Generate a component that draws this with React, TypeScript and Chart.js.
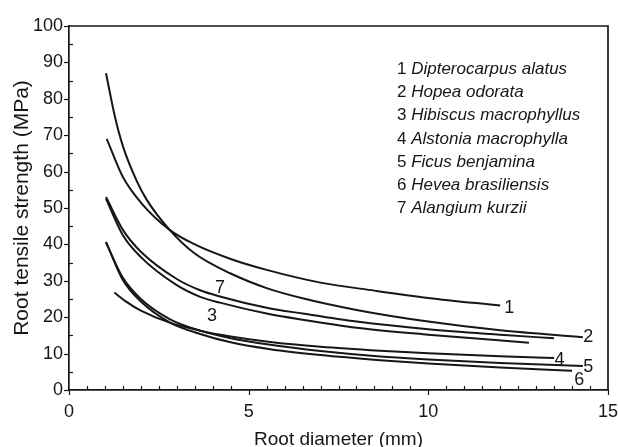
import React, { useEffect, useRef } from "react";
import { Chart, registerables } from "chart.js";

Chart.register(...registerables);

const FAMILY = '"Liberation Sans", Arial, Helvetica, sans-serif';
const INK = "#161616";

// Species (legend order = curve number)
const curveNumbers = ["1", "2", "3", "4", "5", "6", "7"];
const speciesNames = [
  "Dipterocarpus alatus",
  "Hopea odorata",
  "Hibiscus macrophyllus",
  "Alstonia macrophylla",
  "Ficus benjamina",
  "Hevea brasiliensis",
  "Alangium kurzii",
];

// Root diameter (mm) / tensile strength (MPa)
const d1x = [1.05, 1.5, 2, 2.8, 3.5, 4.5, 5.5, 7, 8.5, 10, 12.0];
const d1y = [69, 58.5, 51.5, 44, 40, 36, 33, 29.5, 27.3, 25.3, 23.2];

const d2x = [1.03, 1.28, 1.5, 1.89, 2.16, 2.8, 3.5, 4.5, 5.5, 6.5, 8, 10, 12, 14.3];
const d2y = [87, 75, 67, 57.3, 52.3, 44, 37.5, 32, 28, 25.2, 22, 18.8, 16.4, 14.5];

const d3x = [1.03, 1.5, 2, 3, 3.65, 4.2, 5.5, 6.5, 8, 10, 12.8];
const d3y = [52.5, 42.5, 36.5, 28.8, 25.6, 24, 21, 19.3, 17.1, 15.2, 13];

const d4x = [1.26, 1.6, 2, 2.8, 3.65, 4.5, 5.6, 7, 8.66, 10, 12, 13.5];
const d4y = [26.8, 24.2, 21.8, 18.5, 16.3, 14.7, 13.2, 11.9, 10.8, 10.1, 9.3, 8.8];

const d5x = [1.03, 1.5, 2, 2.8, 3.65, 4.5, 5.6, 7, 8.66, 10, 12, 14.3];
const d5y = [40.5, 30.8, 25, 19.5, 16.3, 14.2, 12.4, 10.7, 9.2, 8.4, 7.4, 6.6];

const d6x = [1.03, 1.5, 2, 2.8, 3.65, 4.5, 5.6, 7, 8.66, 10, 12, 14.0];
const d6y = [40.7, 30.2, 24.3, 18.6, 15.4, 13.1, 11.2, 9.6, 8.2, 7.3, 6.2, 5.3];

const d7x = [1.03, 1.5, 2, 3, 3.65, 4.2, 5.5, 6.5, 8, 10, 12, 13.5];
const d7y = [53, 44, 38, 30.5, 27.4, 25.7, 22.6, 21, 18.8, 16.7, 15.2, 14.2];

const seriesX = [d1x, d2x, d3x, d4x, d5x, d6x, d7x];
const seriesY = [d1y, d2y, d3y, d4y, d5y, d6y, d7y];

// Curve number labels placed in data units
const labelText = ["1", "2", "7", "3", "4", "5", "6"];
const labelX = [12.25, 14.45, 4.2, 3.98, 13.65, 14.45, 14.2];
const labelY = [22.6, 14.5, 28.0, 20.2, 8.2, 6.2, 2.7];

// Axes
const xTickValues = [0, 5, 10, 15];
const yTickValues = [0, 10, 20, 30, 40, 50, 60, 70, 80, 90, 100];
const xMinorStep = 0.5;
const yMinorStep = 5;

const decorPlugin = {
  id: "decor",
  afterDraw(chart: any) {
    const { ctx, chartArea: a, scales } = chart;
    const xs = scales.x;
    const ys = scales.y;
    ctx.save();
    ctx.strokeStyle = INK;
    ctx.lineWidth = 1.7;
    ctx.beginPath();
    ctx.moveTo(a.left, a.top);
    ctx.lineTo(a.right, a.top);
    ctx.lineTo(a.right, a.bottom);
    ctx.stroke();

    ctx.lineWidth = 1.2;
    for (let v = xs.min; v <= xs.max + 1e-9; v += xMinorStep) {
      const px = Math.round(xs.getPixelForValue(v)) + 0.5;
      const major = xTickValues.some((t) => Math.abs(t - v) < 1e-6);
      ctx.beginPath();
      ctx.moveTo(px, a.bottom);
      ctx.lineTo(px, major ? a.bottom + 5 : a.bottom - 4);
      ctx.stroke();
    }
    for (let v = ys.min; v <= ys.max + 1e-9; v += yMinorStep) {
      const py = Math.round(ys.getPixelForValue(v)) + 0.5;
      const major = yTickValues.some((t) => Math.abs(t - v) < 1e-6);
      ctx.beginPath();
      ctx.moveTo(a.left, py);
      ctx.lineTo(major ? a.left - 5 : a.left + 4, py);
      ctx.stroke();
    }

    // curve number labels
    ctx.fillStyle = INK;
    ctx.font = `18px ${FAMILY}`;
    ctx.textAlign = "center";
    ctx.textBaseline = "middle";
    for (let i = 0; i < labelText.length; i++) {
      ctx.fillText(labelText[i], xs.getPixelForValue(labelX[i]), ys.getPixelForValue(labelY[i]));
    }

    // legend text
    ctx.textAlign = "left";
    ctx.textBaseline = "alphabetic";
    const lx = a.left + 328;
    const ly0 = a.top + 48;
    for (let i = 0; i < speciesNames.length; i++) {
      const y = ly0 + i * 23.2;
      ctx.font = `17px ${FAMILY}`;
      ctx.fillText(curveNumbers[i], lx, y);
      const w = ctx.measureText(curveNumbers[i] + " ").width;
      ctx.font = `italic 17px ${FAMILY}`;
      ctx.fillText(speciesNames[i], lx + w, y);
    }
    ctx.restore();
  },
};

export default function App() {
  const ref = useRef<HTMLCanvasElement | null>(null);
  useEffect(() => {
    if (!ref.current) return;
    const datasets = seriesX.map((xs, i) => ({
      label: speciesNames[i],
      data: xs.map((x, j) => ({ x, y: seriesY[i][j] })),
      showLine: true,
      borderColor: INK,
      borderWidth: 2,
      pointRadius: 0,
      fill: false,
      cubicInterpolationMode: "monotone" as const,
    }));
    const chart = new Chart(ref.current, {
      type: "scatter",
      data: { datasets },
      plugins: [decorPlugin],
      options: {
        animation: false,
        responsive: false,
        layout: { autoPadding: false, padding: { left: 0, top: 26, right: 10, bottom: 0 } },
        plugins: { legend: { display: false }, tooltip: { enabled: false } },
        scales: {
          x: {
            type: "linear",
            min: 0,
            max: 15,
            afterBuildTicks: (s: any) => {
              s.ticks = xTickValues.map((v) => ({ value: v }));
            },
            afterFit: (s: any) => {
              s.height = 57;
              s.paddingLeft = 0;
              s.paddingRight = 0;
            },
            grid: { display: false, drawTicks: false },
            border: { display: true, color: INK, width: 1.7 },
            ticks: {
              font: { family: FAMILY, size: 18 },
              color: INK,
              padding: 11,
              maxRotation: 0,
              autoSkip: false,
            },
            title: {
              display: true,
              text: "Root diameter (mm)",
              font: { family: FAMILY, size: 19, lineHeight: 0.8 },
              color: INK,
              padding: 0,
            },
          },
          y: {
            type: "linear",
            min: 0,
            max: 100,
            afterBuildTicks: (s: any) => {
              s.ticks = yTickValues.map((v) => ({ value: v }));
            },
            afterFit: (s: any) => {
              s.width = 69;
              s.paddingTop = 0;
              s.paddingBottom = 0;
            },
            grid: { display: false, drawTicks: false },
            border: { display: true, color: INK, width: 1.7 },
            ticks: {
              font: { family: FAMILY, size: 18 },
              color: INK,
              padding: 6,
              autoSkip: false,
            },
            title: {
              display: true,
              text: "Root tensile strength (MPa)",
              font: { family: FAMILY, size: 21, lineHeight: 1.2 },
              color: INK,
              padding: { top: 10, bottom: 0 },
            },
          },
        },
      },
    });
    return () => chart.destroy();
  }, []);
  return (
    <div style={{ position: "fixed", left: 0, top: 0, width: 618, height: 447, background: "#fff" }}>
      <canvas ref={ref} width={618} height={447} style={{ display: "block" }} />
    </div>
  );
}
